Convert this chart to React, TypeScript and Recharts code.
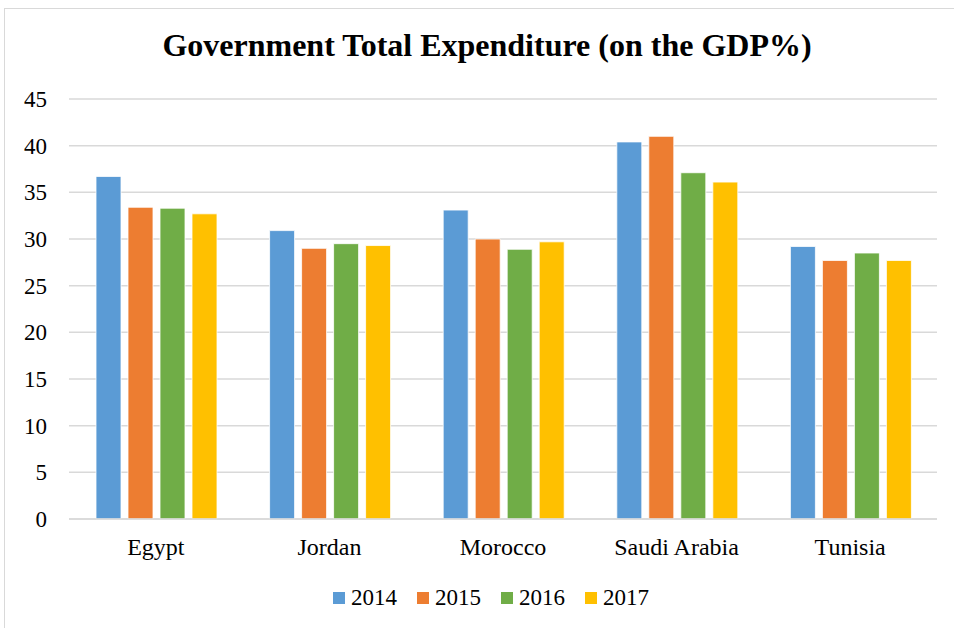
import { BarChart, Bar, XAxis, YAxis, CartesianGrid } from 'recharts'

const countries = ['Egypt', 'Jordan', 'Morocco', 'Saudi Arabia', 'Tunisia']
const years = ['2014', '2015', '2016', '2017']
const v2014 = [36.7, 30.9, 33.1, 40.4, 29.2]
const v2015 = [33.4, 29.0, 30.0, 41.0, 27.7]
const v2016 = [33.3, 29.5, 28.9, 37.1, 28.5]
const v2017 = [32.7, 29.3, 29.7, 36.1, 27.7]
const yTicks = [0, 5, 10, 15, 20, 25, 30, 35, 40, 45]
const colors = ['#5b9bd5', '#ed7d31', '#70ad47', '#ffc000']

const data = countries.map((name, i) => ({
  name,
  '2014': v2014[i],
  '2015': v2015[i],
  '2016': v2016[i],
  '2017': v2017[i],
}))

const FONT = '"Liberation Serif", "Times New Roman", serif'

export default function App() {
  return (
    <div style={{ position: 'absolute', left: 0, top: 0, width: 954, height: 628, background: '#fff', overflow: 'hidden', fontFamily: FONT }}>
      {/* chart frame */}
      <div style={{ position: 'absolute', left: 4, top: 8, width: 970, height: 640, border: '1px solid #d9d9d9', boxSizing: 'border-box' }} />
      <div style={{ position: 'absolute', left: 10, top: 26, width: 954, textAlign: 'center', fontSize: 32, fontWeight: 'bold', color: '#000', lineHeight: '38px' }}>
        Government Total Expenditure (on the GDP%)
      </div>
      <div style={{ position: 'absolute', left: 0, top: 0 }}>
        <BarChart
          width={954}
          height={628}
          data={data}
          margin={{ top: 99, right: 17, bottom: 79, left: 0 }}
          barCategoryGap={27}
          barGap={7}
        >
          <CartesianGrid vertical={false} stroke="#d9d9d9" strokeWidth={1.5} />
          <XAxis
            dataKey="name"
            height={30}
            axisLine={{ stroke: '#d9d9d9', strokeWidth: 1.5 }}
            tickLine={false}
            tickSize={0}
            tickMargin={19}
            tick={{ fontSize: 24, fill: '#000', fontFamily: FONT }}
            interval={0}
          />
          <YAxis
            width={69}
            domain={[0, 45]}
            ticks={yTicks}
            axisLine={false}
            tickLine={false}
            tickSize={0}
            tickMargin={22}
            tick={{ fontSize: 23, fill: '#000', fontFamily: FONT }}
          />
          {years.map((y, i) => (
            <Bar key={y} dataKey={y} fill={colors[i]} stroke="#ffffff" strokeWidth={0.8} isAnimationActive={false} />
          ))}
        </BarChart>
      </div>
      {/* legend */}
      <div style={{ position: 'absolute', left: 333, top: 586, display: 'flex', fontSize: 23, color: '#000', lineHeight: '24px' }}>
        {years.map((y, i) => (
          <div key={y} style={{ display: 'flex', alignItems: 'center', width: 84 }}>
            <div style={{ width: 12, height: 12, background: colors[i], marginRight: 6 }} />
            <span>{y}</span>
          </div>
        ))}
      </div>
    </div>
  )
}
